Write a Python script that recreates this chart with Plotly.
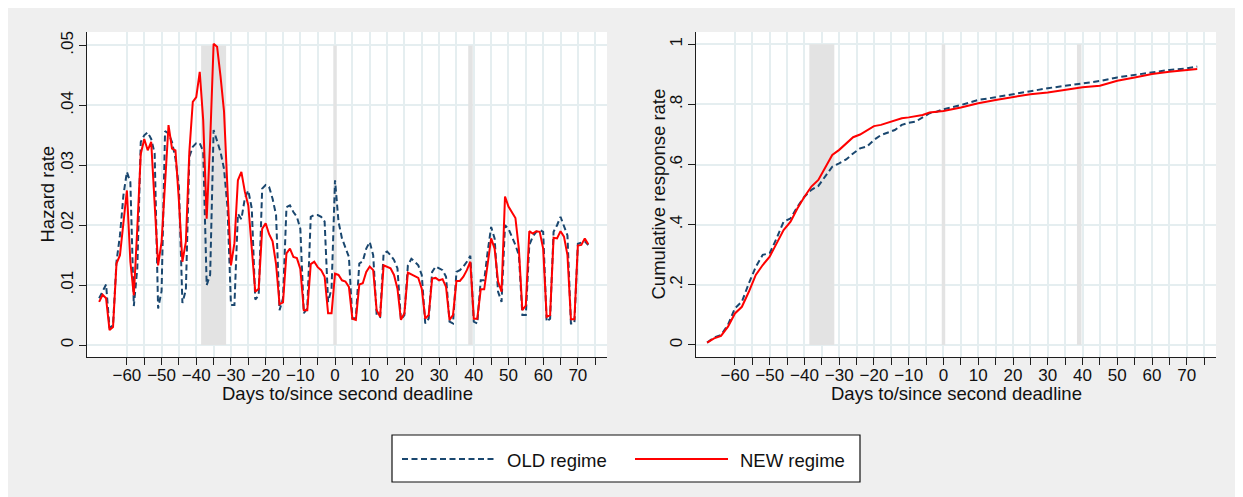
import plotly.graph_objects as go

# ---------------- data ----------------
hazard_days = list(range(-68, 74))

old_hazard = [
    0.0078, 0.0089, 0.0101, 0.0028, 0.0033, 0.0139, 0.0183, 0.0250, 0.0289, 0.0272,
    0.0065, 0.0128, 0.0339, 0.0350, 0.0355, 0.0344, 0.0320, 0.0061, 0.0090, 0.0357,
    0.0353, 0.0339, 0.0311, 0.0264, 0.0070, 0.0092, 0.0314, 0.0331, 0.0337, 0.0337,
    0.0323, 0.0100, 0.0117, 0.0359, 0.0340, 0.0322, 0.0294, 0.0230, 0.0067, 0.0067,
    0.0219, 0.0210, 0.0245, 0.0258, 0.0228, 0.0076, 0.0083, 0.0261, 0.0267, 0.0264,
    0.0244, 0.0217, 0.0058, 0.0078, 0.0230, 0.0233, 0.0222, 0.0214, 0.0194, 0.0053,
    0.0061, 0.0214, 0.0217, 0.0217, 0.0214, 0.0206, 0.0072, 0.0094, 0.0275, 0.0206,
    0.0178, 0.0164, 0.0147, 0.0044, 0.0045, 0.0136, 0.0140, 0.0161, 0.0172, 0.0150,
    0.0050, 0.0047, 0.0153, 0.0156, 0.0150, 0.0142, 0.0128, 0.0042, 0.0050, 0.0133,
    0.0144, 0.0139, 0.0133, 0.0117, 0.0036, 0.0044, 0.0122, 0.0131, 0.0128, 0.0125,
    0.0114, 0.0039, 0.0036, 0.0122, 0.0125, 0.0131, 0.0139, 0.0149, 0.0039, 0.0036,
    0.0108, 0.0108, 0.0156, 0.0197, 0.0178, 0.0089, 0.0072, 0.0200, 0.0194, 0.0181,
    0.0167, 0.0150, 0.0050, 0.0050, 0.0167, 0.0181, 0.0189, 0.0192, 0.0189, 0.0039,
    0.0044, 0.0189, 0.0200, 0.0214, 0.0197, 0.0183, 0.0036, 0.0036, 0.0169, 0.0171,
    0.0173, 0.0167,
]

new_hazard = [
    0.0072, 0.0084, 0.0078, 0.0025, 0.0030, 0.0136, 0.0150, 0.0200, 0.0258, 0.0139,
    0.0083, 0.0195, 0.0319, 0.0344, 0.0325, 0.0339, 0.0230, 0.0133, 0.0172, 0.0280,
    0.0367, 0.0328, 0.0325, 0.0240, 0.0139, 0.0172, 0.0322, 0.0406, 0.0414, 0.0456,
    0.0375, 0.0211, 0.0340, 0.0503, 0.0498, 0.0448, 0.0390, 0.0260, 0.0133, 0.0170,
    0.0275, 0.0289, 0.0256, 0.0233, 0.0160, 0.0089, 0.0094, 0.0194, 0.0203, 0.0185,
    0.0173, 0.0135, 0.0068, 0.0071, 0.0153, 0.0161, 0.0147, 0.0145, 0.0127, 0.0058,
    0.0058, 0.0135, 0.0139, 0.0130, 0.0125, 0.0114, 0.0053, 0.0053, 0.0119, 0.0117,
    0.0108, 0.0106, 0.0097, 0.0044, 0.0042, 0.0101, 0.0103, 0.0122, 0.0131, 0.0125,
    0.0058, 0.0047, 0.0133, 0.0131, 0.0128, 0.0117, 0.0094, 0.0042, 0.0053, 0.0121,
    0.0118, 0.0116, 0.0112, 0.0094, 0.0044, 0.0050, 0.0111, 0.0112, 0.0108, 0.0110,
    0.0097, 0.0042, 0.0050, 0.0107, 0.0107, 0.0114, 0.0125, 0.0139, 0.0044, 0.0044,
    0.0093, 0.0093, 0.0133, 0.0178, 0.0161, 0.0106, 0.0089, 0.0248, 0.0231, 0.0222,
    0.0212, 0.0160, 0.0058, 0.0066, 0.0190, 0.0186, 0.0190, 0.0189, 0.0161, 0.0047,
    0.0050, 0.0179, 0.0178, 0.0190, 0.0181, 0.0150, 0.0043, 0.0043, 0.0166, 0.0167,
    0.0178, 0.0168,
]

cum_days = [-68, -66, -64, -62, -60, -58, -56, -54, -52, -50, -48, -46, -44, -42, -40,
            -38, -36, -34, -32, -30, -28, -26, -24, -22, -20, -18, -16, -14, -12, -10,
            -8, -6, -4, -2, 0, 5, 10, 15, 20, 25, 30, 35, 40, 45, 50, 55, 60, 65, 70, 73]

old_cum = [0.008, 0.025, 0.033, 0.067, 0.122, 0.144, 0.205, 0.260, 0.300, 0.305,
           0.355, 0.410, 0.421, 0.460, 0.493, 0.516, 0.529, 0.560, 0.593, 0.604,
           0.617, 0.637, 0.654, 0.660, 0.682, 0.698, 0.706, 0.715, 0.732, 0.739,
           0.743, 0.757, 0.771, 0.776, 0.784, 0.798, 0.815, 0.824, 0.834, 0.846,
           0.854, 0.862, 0.870, 0.878, 0.890, 0.898, 0.907, 0.915, 0.920, 0.926]

new_cum = [0.008, 0.022, 0.030, 0.061, 0.105, 0.127, 0.177, 0.233, 0.266, 0.294,
           0.338, 0.382, 0.410, 0.455, 0.493, 0.527, 0.549, 0.593, 0.632, 0.649,
           0.671, 0.691, 0.700, 0.715, 0.728, 0.732, 0.739, 0.748, 0.754, 0.757,
           0.762, 0.765, 0.773, 0.776, 0.778, 0.790, 0.804, 0.815, 0.824, 0.834,
           0.840, 0.848, 0.857, 0.862, 0.879, 0.890, 0.901, 0.909, 0.915, 0.918]

# shaded periods (days)
bands = [(-38.6, -31.4), (-0.5, 0.5), (38.4, 39.7)]

x_tickvals = list(range(-60, 80, 5))
x_ticktext = [("\u2212%d" % -v if v < 0 else str(v)) if v % 10 == 0 else "" for v in x_tickvals]
haz_ticks = [0, 0.01, 0.02, 0.03, 0.04, 0.05]
haz_text = ["0", ".01", ".02", ".03", ".04", ".05"]
cum_ticks = [0, 0.2, 0.4, 0.6, 0.8, 1.0]
cum_text = ["0", ".2", ".4", ".6", ".8", "1"]

series_names = ["OLD regime", "NEW regime"]

# ---------------- style ----------------
W, H = 1243, 497
OFF = 8  # page body margin offset
FONT = "Liberation Sans, Arial, Helvetica, sans-serif"
NAVY = "#1a476f"
RED = "#ff0000"
GRID = "#e5eef0"
BAND = "#e3e3e3"
BG = "#efefef"
AX = "#1e1e1e"
DASH = "6px,3.5px"

def px(x):
    return (x - OFF) / W

def py(y):
    return 1 - (y - OFF) / H

fig = go.Figure()

fig.add_trace(go.Scatter(x=hazard_days, y=old_hazard, mode="lines", name=series_names[0],
                         line=dict(color=NAVY, width=2, dash=DASH), xaxis="x", yaxis="y"))
fig.add_trace(go.Scatter(x=hazard_days, y=new_hazard, mode="lines", name=series_names[1],
                         line=dict(color=RED, width=2), xaxis="x", yaxis="y"))
fig.add_trace(go.Scatter(x=cum_days, y=old_cum, mode="lines", name=series_names[0],
                         line=dict(color=NAVY, width=2, dash=DASH), xaxis="x2", yaxis="y2"))
fig.add_trace(go.Scatter(x=cum_days, y=new_cum, mode="lines", name=series_names[1],
                         line=dict(color=RED, width=2), xaxis="x2", yaxis="y2"))

xcommon = dict(
    tickmode="array", tickvals=x_tickvals, ticktext=x_ticktext,
    ticks="outside", ticklen=7, tickwidth=1, tickcolor=AX,
    showline=True, linecolor=AX, linewidth=1,
    showgrid=True, gridcolor=GRID, gridwidth=2, zeroline=False,
    ticklabelstandoff=-4,
    tickfont=dict(family=FONT, size=17, color="#111"),
)
ycommon = dict(
    tickmode="array", ticks="outside", ticklen=7, tickwidth=1, tickcolor=AX,
    showline=True, linecolor=AX, linewidth=1,
    showgrid=True, gridcolor=GRID, gridwidth=2, zeroline=False,
    tickangle=-90, ticklabelstandoff=-1,
    tickfont=dict(family=FONT, size=17, color="#111"),
)

y_dom = [py(357), py(32)]
fig.update_layout(
    width=W, height=H, autosize=False,
    margin=dict(l=0, r=0, t=0, b=0, pad=0),
    paper_bgcolor=BG, plot_bgcolor="white",
    showlegend=False,
    font=dict(family=FONT, color="#111"),
    xaxis=dict(domain=[px(87), px(607)], range=[-71.5, 78.4], anchor="y", **xcommon),
    yaxis=dict(domain=y_dom, range=[-0.002, 0.05225], anchor="x",
               tickvals=haz_ticks, ticktext=haz_text, **ycommon),
    xaxis2=dict(domain=[px(696), px(1216)], range=[-71.2, 78.4], anchor="y2", **xcommon),
    yaxis2=dict(domain=y_dom, range=[-0.04, 1.041], anchor="x2",
                tickvals=cum_ticks, ticktext=cum_text, **ycommon),
)

shapes = []
for (a, b) in bands:
    shapes.append(dict(type="rect", xref="x", yref="y", x0=a, x1=b, y0=0, y1=0.05,
                       fillcolor=BAND, line=dict(width=0), layer="between"))
    shapes.append(dict(type="rect", xref="x2", yref="y2", x0=a, x1=b, y0=0, y1=1,
                       fillcolor=BAND, line=dict(width=0), layer="between"))

# legend box (drawn manually to match the wide legend keys)
shapes.append(dict(type="rect", xref="paper", yref="paper", x0=px(392), x1=px(860),
                   y0=py(482), y1=py(435), fillcolor="white", line=dict(color="#111", width=1.2)))
shapes.append(dict(type="line", xref="paper", yref="paper", x0=px(402), x1=px(495),
                   y0=py(459), y1=py(459), line=dict(color=NAVY, width=2, dash=DASH)))
shapes.append(dict(type="line", xref="paper", yref="paper", x0=px(635), x1=px(728),
                   y0=py(459), y1=py(459), line=dict(color=RED, width=2)))
fig.update_layout(shapes=shapes)

TF = dict(family=FONT, size=18.5, color="#111")
annotations = [
    dict(text="Hazard rate", x=px(47), y=py(194.5), textangle=-90),
    dict(text="Cumulative response rate", x=px(658), y=py(194.5), textangle=-90),
    dict(text="Days to/since second deadline", x=px(347), y=py(393)),
    dict(text="Days to/since second deadline", x=px(956), y=py(393)),
]
for a in annotations:
    a.update(xref="paper", yref="paper", showarrow=False, font=TF,
             xanchor="center", yanchor="middle")
annotations.append(dict(text=series_names[0], x=px(505), y=py(460), xref="paper", yref="paper",
                        showarrow=False, font=TF, xanchor="left", yanchor="middle"))
annotations.append(dict(text=series_names[1], x=px(738), y=py(460), xref="paper", yref="paper",
                        showarrow=False, font=TF, xanchor="left", yanchor="middle"))
fig.update_layout(annotations=annotations)

fig.write_html("out.html")
